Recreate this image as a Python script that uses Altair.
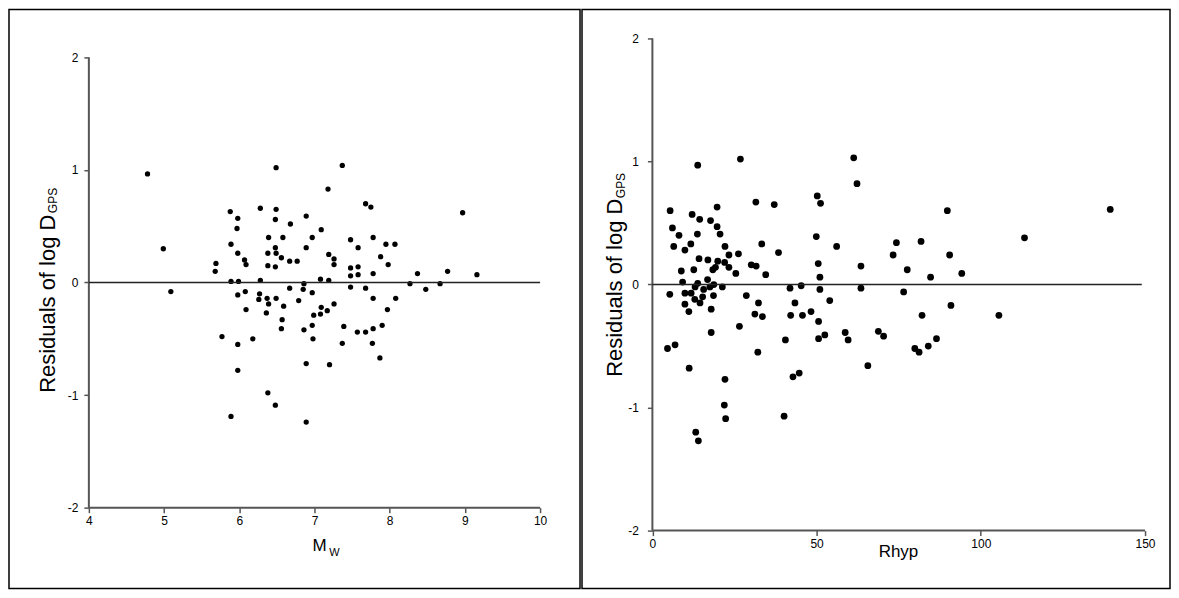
import altair as alt
import pandas as pd

FONT = "Liberation Sans"

# ---- Left panel: residuals vs magnitude ----
mw = [4.78, 4.99, 5.88, 5.98, 5.97, 5.89, 5.98, 6.07, 6.09, 5.69, 5.68, 5.89, 5.99,
      6.28, 6.49, 6.49, 6.48, 6.68, 6.89, 6.39, 6.58, 6.48, 6.38, 6.49, 6.56, 6.38,
      6.48, 6.67, 6.77, 6.89, 6.28, 6.86,
      7.37, 7.18, 7.68, 7.75, 7.09, 6.97, 7.48, 7.58, 7.78, 7.95, 8.07, 7.19, 7.26,
      7.26, 7.88, 7.98, 7.48, 7.58, 7.48, 7.58, 7.78, 7.08, 7.19, 8.97, 8.77, 9.16,
      8.37, 8.27, 8.67, 7.48, 7.68, 8.48,
      5.09, 5.98, 6.08, 6.27, 6.26, 6.37, 6.49, 6.67, 6.85, 6.39, 6.09, 6.36, 6.59,
      6.79, 6.57, 6.56, 6.86, 5.77, 6.18, 5.98, 5.98, 6.89, 6.38, 6.48, 5.89, 6.89,
      6.97, 7.09, 6.99, 7.08, 7.17, 7.26, 7.78, 8.08, 7.97, 6.97, 6.98, 7.39, 7.37,
      7.57, 7.68, 7.78, 7.90, 7.77, 7.87, 7.20]
res_mw = [0.965, 0.30, 0.63, 0.57, 0.48, 0.34, 0.26, 0.20, 0.16, 0.17, 0.10, 0.01, 0.01,
          0.66, 1.02, 0.65, 0.56, 0.52, 0.59, 0.40, 0.40, 0.31, 0.26, 0.26, 0.22, 0.15,
          0.14, 0.19, 0.19, 0.31, 0.02, -0.01,
          1.04, 0.83, 0.70, 0.67, 0.47, 0.40, 0.38, 0.31, 0.40, 0.34, 0.34, 0.25, 0.21,
          0.16, 0.23, 0.16, 0.13, 0.14, 0.06, 0.07, 0.08, 0.03, 0.02, 0.62, 0.10, 0.07,
          0.08, -0.01, -0.01, -0.04, -0.05, -0.06,
          -0.08, -0.11, -0.08, -0.10, -0.15, -0.14, -0.14, -0.05, -0.06, -0.19, -0.24,
          -0.27, -0.21, -0.16, -0.33, -0.41, -0.42, -0.48, -0.50, -0.55, -0.78, -0.72,
          -0.98, -1.09, -1.19, -1.24,
          -0.09, -0.22, -0.29, -0.28, -0.25, -0.19, -0.14, -0.14, -0.24, -0.38, -0.50,
          -0.39, -0.54, -0.44, -0.44, -0.41, -0.38, -0.54, -0.67, -0.73]

# ---- Right panel: residuals vs hypocentral distance ----
rhyp = [13.8, 26.8, 5.4, 12.1, 19.7, 14.4, 17.7, 6.1, 8.1, 13.7, 19.7, 20.6, 6.5, 9.9,
        11.7, 22.1, 23.3, 26.2, 31.5, 37.1, 33.3, 38.4, 14.2, 16.9, 19.9, 22.0, 19.2,
        18.4, 23.3, 12.6, 8.8, 30.1, 31.6, 25.4, 34.5, 9.2, 16.8, 13.8, 18.7, 13.0,
        17.5, 21.3, 41.9, 45.3, 50.2, 51.2, 49.9, 50.5, 51.0, 51.0, 15.6, 61.3, 62.3,
        89.8, 56.1, 74.3, 81.8, 73.3, 90.5, 63.5, 77.6, 84.7, 94.2, 63.5, 76.5, 139.4,
        113.3, 105.5, 5.3, 9.9, 11.8, 12.9, 15.3, 18.6, 9.9, 14.5, 11.1, 17.9, 17.9,
        28.6, 32.3, 31.2, 33.5, 26.5, 43.4, 42.1, 45.7, 48.3, 50.6, 50.6, 40.5, 4.6,
        6.9, 32.1, 11.2, 22.1, 42.8, 44.7, 21.9, 22.3, 40.1, 13.2, 14.0, 54.0, 90.9,
        82.1, 58.7, 59.6, 52.5, 68.8, 70.4, 65.6, 79.9, 81.2, 84.0, 86.5]
res_rhyp = [0.97, 1.02, 0.60, 0.57, 0.63, 0.53, 0.52, 0.46, 0.40, 0.41, 0.47, 0.41, 0.31,
            0.28, 0.33, 0.31, 0.24, 0.25, 0.67, 0.65, 0.33, 0.26, 0.21, 0.20, 0.19, 0.18,
            0.14, 0.12, 0.14, 0.12, 0.11, 0.16, 0.15, 0.09, 0.08, 0.02, 0.04, 0.01, 0.00,
            -0.02, -0.02, -0.02, -0.03, -0.01, 0.72, 0.66, 0.39, 0.17, 0.06, -0.04, -0.04,
            1.03, 0.82, 0.60, 0.31, 0.34, 0.35, 0.24, 0.24, 0.15, 0.12, 0.06, 0.09, -0.03,
            -0.06, 0.61, 0.38, -0.25, -0.08, -0.07, -0.07, -0.12, -0.10, -0.09, -0.16,
            -0.15, -0.22, -0.20, -0.39, -0.09, -0.15, -0.24, -0.26, -0.34, -0.15, -0.25,
            -0.25, -0.22, -0.30, -0.44, -0.45, -0.52, -0.49, -0.55, -0.68, -0.77, -0.75,
            -0.72, -0.98, -1.09, -1.07, -1.20, -1.27, -0.13, -0.17, -0.25, -0.39, -0.45,
            -0.41, -0.38, -0.42, -0.66, -0.52, -0.55, -0.50, -0.44]

y_ticks = [-2, -1, 0, 1, 2]
mw_ticks = [4, 5, 6, 7, 8, 9, 10]
rhyp_ticks = [0, 50, 100, 150]

PANEL_H = 580
LEFT_W = 572
RIGHT_W = 589

AXIS_COLOR = "#555555"


def axis(values, offset, pad):
    return alt.Axis(values=values, offset=offset, domain=False, grid=False,
                    tickSize=5, tickWidth=1.5, tickColor=AXIS_COLOR, title=None,
                    labelFont=FONT, labelFontSize=12, labelColor="black",
                    labelPadding=pad, labelExpr="'' + datum.value",
                    labelFlush=False, labelOverlap=False)


def make_panel(df, xfield, xscale, yscale, xticks, x_lo, x_hi, x_zero_hi,
               xoff, yoff, size, width, ytitle_pos, gps_pos, xtitle_parts,
               ytitle_size, ypad):
    xax = axis(xticks, xoff, 3)
    yax = axis(y_ticks, yoff, ypad)
    pts = alt.Chart(df).mark_circle(size=size, color="black", opacity=1).encode(
        x=alt.X(f"{xfield}:Q", scale=xscale, axis=xax),
        y=alt.Y("res:Q", scale=yscale, axis=yax),
    )
    lines = pd.DataFrame({
        "x": [x_lo, x_lo, x_lo], "x2": [x_lo, x_hi, x_zero_hi],
        "y": [-2, -2, 0], "y2": [2, -2, 0],
        "kind": ["axis", "axis", "zero"],
    })
    axes_lines = alt.Chart(lines[lines.kind == "axis"]).mark_rule(
        color=AXIS_COLOR, strokeWidth=2).encode(
        x=alt.X("x:Q", scale=xscale, axis=xax), x2="x2:Q",
        y=alt.Y("y:Q", scale=yscale, axis=yax), y2="y2:Q")
    zero_line = alt.Chart(lines[lines.kind == "zero"]).mark_rule(
        color="#222222", strokeWidth=1.5).encode(
        x=alt.X("x:Q", scale=xscale, axis=xax), x2="x2:Q",
        y=alt.Y("y:Q", scale=yscale, axis=yax))
    ytitle = alt.Chart(pd.DataFrame({"t": ["Residuals of log D"]})).mark_text(
        angle=270, align="left", baseline="middle", fontSize=ytitle_size, font=FONT,
        color="black").encode(x=alt.value(ytitle_pos[0]), y=alt.value(ytitle_pos[1]),
                              text="t:N")
    gps = alt.Chart(pd.DataFrame({"t": ["GPS"]})).mark_text(
        angle=270, align="left", baseline="middle", fontSize=12, font=FONT,
        color="black").encode(x=alt.value(gps_pos[0]), y=alt.value(gps_pos[1]),
                              text="t:N")
    layers = [pts, axes_lines, zero_line, ytitle, gps]
    for txt, px, py, fs in xtitle_parts:
        layers.append(alt.Chart(pd.DataFrame({"t": [txt]})).mark_text(
            align="center", baseline="middle", fontSize=fs, font=FONT,
            color="black").encode(x=alt.value(px), y=alt.value(py), text="t:N"))
    return alt.layer(*layers).properties(width=width, height=PANEL_H)


left_df = pd.DataFrame({"Mw": mw, "res": res_mw})
right_df = pd.DataFrame({"Rhyp": rhyp, "res": res_rhyp})

left = make_panel(
    left_df, "Mw",
    alt.Scale(domain=[2.938, 10.531], nice=False, zero=False),
    alt.Scale(domain=[-2.7184, 2.4257], nice=False, zero=False),
    mw_ticks, 4, 10, 10, -81, -80, 28, LEFT_W,
    (39, 384), (44, 204),
    [("M", 311, 537, 17), ("W", 326, 544, 11)],
    22, 6,
)

right = make_panel(
    right_df, "Rhyp",
    alt.Scale(domain=[-21.43, 157.6], nice=False, zero=False),
    alt.Scale(domain=[-2.4706, 2.2353], nice=False, zero=False),
    rhyp_ticks, 0, 150, 149, -58, -70.5, 46, RIGHT_W,
    (33, 368), (39, 189),
    [("Rhyp", 317, 543, 17)],
    22, 9,
)

chart = alt.hconcat(left, right, spacing=0).properties(padding=0).configure_view(
    stroke="black", strokeWidth=1.5
)

chart.save("out.html", embed_options={"renderer": "svg", "actions": False})
